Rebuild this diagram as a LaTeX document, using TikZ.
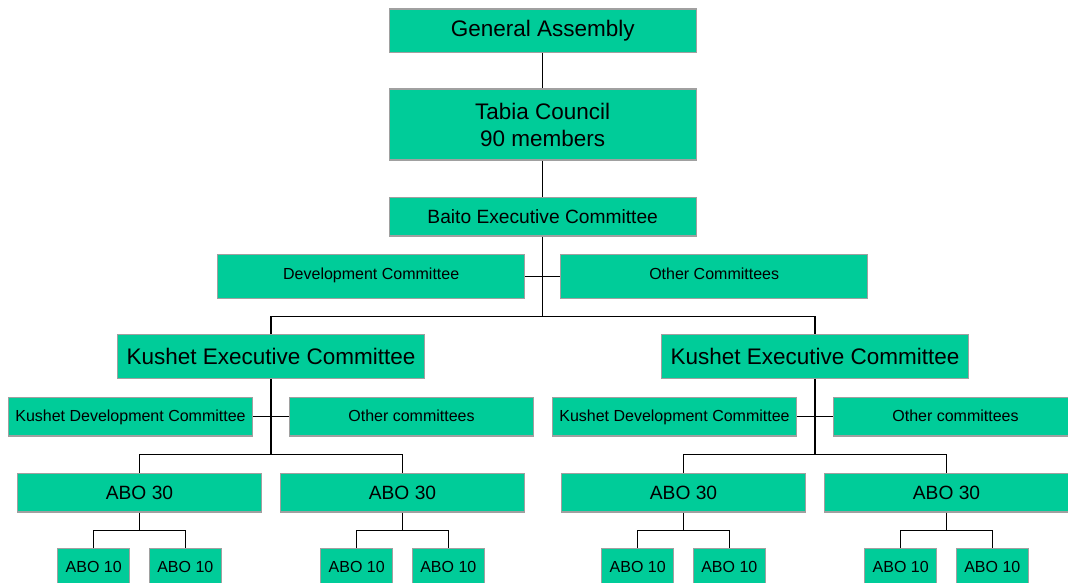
\documentclass[tikz,border=0pt]{standalone}
\usepackage{fontspec}
\setsansfont{Liberation Sans}
\usetikzlibrary{positioning}
\definecolor{c1}{HTML}{00CC99}
\definecolor{edgecolor}{HTML}{A0A0A0}

\begin{document}
\begin{tikzpicture}[
    x=1pt, y=-1pt,
    every node/.style={font=\sffamily},
    unit/.style={draw=edgecolor, fill=c1, line width=1.2pt, inner sep=0pt, align=center},
    head/.style={unit, minimum width=307, font=\sffamily\fontsize{22.5}{27}\selectfont},
    sub/.style={unit, minimum width=244, minimum height=38.7, text depth=0.25em,
        font=\sffamily\fontsize{16}{19}\selectfont},
    abo/.style={unit, minimum width=244, minimum height=38.7, font=\sffamily\fontsize{19.2}{23}\selectfont},
    ten/.style={unit, minimum width=72, minimum height=38.7, text depth=0.25em,
        font=\sffamily\fontsize{16}{19}\selectfont},
    link/.style={black, line width=1.4pt},
]
\useasboundingbox (0,0) rectangle (1068,582);

% tabia level
\node[head, minimum height=43.3] (assembly) at (542.7,30.7) {General Assembly};
\node[head, minimum height=71] (council) at (542.7,124.5) {Tabia Council\\90 members};
\node[head, minimum height=38.7, font=\sffamily\fontsize{19.2}{23}\selectfont] (baito) at (542.7,216.7) {Baito Executive Committee};
\node[head, minimum height=43.6, text depth=0.5em, font=\sffamily\fontsize{16}{19}\selectfont] (devcom) at (371.2,276.5) {Development Committee};
\node[head, minimum height=43.6, text depth=0.5em, font=\sffamily\fontsize{16}{19}\selectfont] (othcom) at (714.2,276.5) {Other Committees};
\coordinate (hub) at (542.7,316.3);

\draw[link] (assembly) -- (council);
\draw[link] (council) -- (baito);
\draw[link] (devcom) -- (othcom);
\draw[link] (baito) -- (hub);

% kushet level, one branch per side
\foreach \s/\x in {l/271, r/815}{
    \node[head, minimum height=43.6] (kec-\s) at (\x,356.5) {Kushet Executive Committee};
    \node[sub] (kdc-\s) at ({\x-140.5},416.7) {Kushet Development Committee};
    \node[sub] (koc-\s) at ({\x+140.5},416.7) {Other committees};
    \coordinate (kbus-\s) at (\x,454.7);
    \draw[link] (kdc-\s) -- (koc-\s);
    \draw[link] (kec-\s) -- (kbus-\s);
    % abo 30 and their abo 10
    \foreach \t/\d in {a/-131.5, b/131.5}{
        \node[abo] (abo-\s-\t) at ({\x+\d},492.7) {ABO 30};
        \node[ten] (ten-\s-\t-1) at ({\x+\d-45.8},568) {ABO 10};
        \node[ten] (ten-\s-\t-2) at ({\x+\d+45.8},568) {ABO 10};
        \coordinate (tbus-\s-\t) at ({\x+\d},530.3);
        \draw[link] (abo-\s-\t) -- (tbus-\s-\t);
        \draw[link] (ten-\s-\t-1) |- (tbus-\s-\t) -| (ten-\s-\t-2);
    }
    \draw[link] (abo-\s-a) |- (kbus-\s) -| (abo-\s-b);
}
\draw[link] (kec-l) |- (hub) -| (kec-r);

\end{tikzpicture}
\end{document}
